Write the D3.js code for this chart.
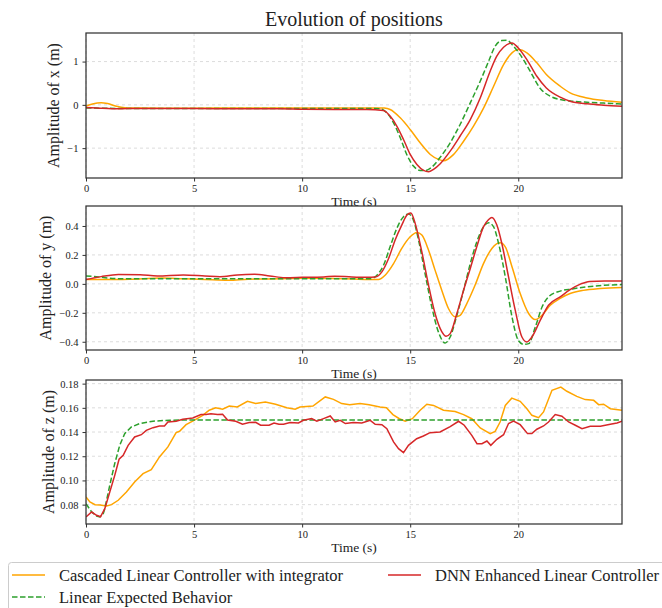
<!DOCTYPE html>
<html>
<head>
<meta charset="utf-8">
<script src="https://cdn.jsdelivr.net/npm/d3@7"></script>
<style>
	body { margin: 0; background: #fff; }
	svg text { font-family: 'Liberation Serif', 'Times New Roman', serif; fill: #222; }
	.grid line { stroke: #d3d3d3; stroke-dasharray: 3,3; stroke-width: 0.8; }
	.axis .domain { display: none; }
	.axis .tick line { stroke: #333; }
	.axis .tick text { font-size: 10.5px; }
</style>
</head>
<body>
<div id="chart"></div>
<script>
// time axis ticks
var timeTicks = [0, 5, 10, 15, 20];
var timeMax = 24.8;

// x position [t, value]
var xCascaded = [[0,-0.03],[0.3,0.02],[0.7,0.05],[1.0,0.03],[1.4,-0.03],[1.8,-0.065],[2.5,-0.075],[4,-0.08],[6,-0.075],[8,-0.075],[10,-0.075],[12,-0.075],[13.5,-0.07],[13.8,-0.075],[14.07,-0.108],[14.54,-0.3],[15.0,-0.57],[15.46,-0.877],[15.93,-1.146],[16.31,-1.26],[16.55,-1.29],[17.0,-1.15],[17.47,-0.84],[17.93,-0.49],[18.4,-0.07],[18.86,0.43],[19.32,0.93],[19.71,1.2],[20.0,1.277],[20.4,1.2],[20.86,0.97],[21.3,0.7],[21.94,0.43],[22.4,0.277],[23.18,0.16],[23.95,0.1],[24.8,0.06]];
var xDnn = [[0,-0.06],[0.5,-0.07],[1.2,-0.09],[2,-0.085],[3,-0.085],[5,-0.085],[7,-0.09],[9,-0.09],[10,-0.1],[11.5,-0.105],[13,-0.105],[13.76,-0.13],[14.07,-0.26],[14.38,-0.49],[14.69,-0.8],[15.0,-1.146],[15.31,-1.377],[15.62,-1.515],[15.85,-1.546],[16.08,-1.49],[16.39,-1.36],[16.85,-1.07],[17.31,-0.72],[17.78,-0.34],[18.24,0.16],[18.7,0.777],[19.0,1.12],[19.32,1.33],[19.71,1.43],[20.0,1.315],[20.4,1.046],[20.86,0.66],[21.3,0.39],[21.94,0.177],[22.4,0.085],[23.18,0.023],[23.95,-0.008],[24.8,-0.03]];
var xExpected = [[0,-0.07],[1,-0.08],[3,-0.085],[13.3,-0.085],[13.61,-0.09],[13.92,-0.185],[14.23,-0.415],[14.54,-0.76],[14.84,-1.146],[15.15,-1.415],[15.46,-1.515],[15.69,-1.52],[16.0,-1.44],[16.39,-1.21],[16.85,-0.877],[17.31,-0.454],[17.78,0.046],[18.24,0.546],[18.63,1.008],[18.93,1.354],[19.24,1.485],[19.47,1.49],[19.78,1.354],[20.09,1.16],[20.55,0.777],[21.0,0.39],[21.48,0.2],[21.94,0.123],[22.4,0.09],[23.18,0.06],[23.95,0.04],[24.8,0.02]];

// y position
var yCascaded = [[0,0.03],[1,0.03],[2,0.032],[3.5,0.04],[4.5,0.035],[5.5,0.03],[6.6,0.025],[7.5,0.032],[9,0.035],[10,0.038],[12,0.035],[13.53,0.03],[13.84,0.06],[14.23,0.14],[14.61,0.245],[15.0,0.325],[15.31,0.355],[15.54,0.337],[15.85,0.233],[16.15,0.095],[16.46,-0.044],[16.77,-0.17],[17.08,-0.228],[17.31,-0.217],[17.62,-0.136],[18.0,-0.01],[18.39,0.14],[18.78,0.245],[19.16,0.284],[19.4,0.256],[19.71,0.118],[20.09,-0.067],[20.48,-0.205],[20.79,-0.247],[21.1,-0.217],[21.48,-0.148],[21.94,-0.1],[22.4,-0.067],[23.0,-0.045],[23.8,-0.032],[24.8,-0.025]];
var yDnn = [[0,0.03],[0.7,0.05],[1.5,0.065],[2.5,0.063],[3.3,0.055],[4.5,0.062],[5.5,0.055],[6.2,0.05],[7.0,0.062],[7.8,0.066],[8.5,0.055],[9.2,0.043],[10,0.045],[11,0.048],[11.5,0.053],[12.3,0.048],[13.0,0.046],[13.38,0.048],[13.69,0.083],[14.0,0.175],[14.3,0.302],[14.61,0.406],[14.85,0.475],[15.03,0.49],[15.23,0.418],[15.54,0.22],[15.85,-0.01],[16.15,-0.205],[16.46,-0.33],[16.66,-0.362],[16.85,-0.344],[17.16,-0.205],[17.47,-0.044],[17.78,0.106],[18.08,0.256],[18.39,0.394],[18.63,0.445],[18.78,0.459],[19.01,0.406],[19.24,0.279],[19.55,0.048],[19.86,-0.182],[20.17,-0.367],[20.4,-0.401],[20.63,-0.367],[21.02,-0.251],[21.4,-0.148],[21.94,-0.09],[22.4,-0.04],[22.9,0.0],[23.3,0.017],[24,0.02],[24.8,0.02]];
var yExpected = [[0,0.055],[0.5,0.05],[1,0.04],[1.8,0.035],[13.15,0.035],[13.46,0.06],[13.77,0.13],[14.07,0.256],[14.38,0.383],[14.69,0.464],[14.92,0.482],[15.15,0.44],[15.39,0.3],[15.69,0.07],[16.0,-0.16],[16.3,-0.33],[16.62,-0.408],[16.85,-0.367],[17.16,-0.217],[17.47,-0.044],[17.78,0.14],[18.08,0.29],[18.39,0.394],[18.63,0.422],[18.86,0.394],[19.09,0.279],[19.4,0.048],[19.71,-0.228],[20.0,-0.39],[20.25,-0.418],[20.48,-0.413],[20.79,-0.298],[21.1,-0.16],[21.4,-0.09],[21.94,-0.05],[22.5,-0.035],[23.2,-0.02],[24.8,-0.005]];

// z position
var zCascaded = [[0,0.0864],[0.18,0.0822],[0.42,0.080],[0.65,0.0797],[0.95,0.0789],[1.18,0.080],[1.49,0.0836],[1.87,0.0905],[2.25,0.0987],[2.64,0.1056],[3.02,0.109],[3.4,0.1194],[3.79,0.1277],[4.17,0.1395],[4.33,0.1406],[4.63,0.1461],[5.0,0.1497],[5.4,0.1538],[5.7,0.158],[6.0,0.160],[6.32,0.1588],[6.63,0.1615],[7.0,0.1607],[7.47,0.1654],[7.85,0.1635],[8.3,0.1648],[8.77,0.163],[9.29,0.160],[9.68,0.1588],[9.9,0.1607],[10.5,0.1615],[11.07,0.169],[11.45,0.167],[11.83,0.1635],[12.2,0.1626],[12.68,0.1635],[13.1,0.1626],[13.6,0.1607],[13.9,0.160],[14.2,0.1544],[14.5,0.151],[14.77,0.149],[15.1,0.151],[15.46,0.158],[15.77,0.163],[16.08,0.162],[16.54,0.158],[17.08,0.157],[17.47,0.1544],[17.85,0.151],[18.24,0.1434],[18.7,0.1387],[18.93,0.1406],[19.16,0.1483],[19.4,0.162],[19.7,0.168],[20.09,0.1654],[20.4,0.1593],[20.63,0.1538],[20.94,0.1519],[21.17,0.1566],[21.56,0.1745],[21.97,0.1772],[22.25,0.1737],[22.71,0.1695],[23.1,0.1668],[23.49,0.1662],[23.72,0.1626],[23.95,0.163],[24.26,0.1593],[24.8,0.158]];
var zDnn = [[0,0.0698],[0.26,0.0739],[0.49,0.0712],[0.67,0.070],[0.87,0.0767],[1.1,0.0905],[1.33,0.1042],[1.53,0.1175],[1.72,0.1208],[1.95,0.129],[2.25,0.1359],[2.56,0.1378],[2.79,0.1414],[3.1,0.1436],[3.4,0.145],[3.63,0.145],[3.79,0.1483],[4.17,0.1489],[4.48,0.1505],[4.94,0.1516],[5.32,0.1544],[5.55,0.1544],[5.78,0.1552],[6.09,0.1544],[6.32,0.1547],[6.55,0.150],[6.93,0.1489],[7.24,0.1464],[7.55,0.1478],[7.85,0.148],[8.08,0.1456],[8.47,0.1456],[8.7,0.1475],[8.93,0.1464],[9.14,0.1464],[9.44,0.1478],[9.83,0.1475],[10.06,0.1497],[10.44,0.1511],[10.68,0.149],[10.99,0.1511],[11.3,0.1533],[11.53,0.1483],[11.76,0.1497],[12.0,0.147],[12.37,0.1478],[12.76,0.1475],[13.15,0.1497],[13.38,0.1464],[13.69,0.1461],[13.92,0.1428],[14.23,0.1318],[14.46,0.1263],[14.69,0.123],[14.92,0.129],[15.3,0.1345],[15.61,0.1367],[15.92,0.1395],[16.38,0.14],[16.85,0.1445],[17.24,0.1489],[17.5,0.1456],[17.85,0.1373],[18.09,0.1304],[18.32,0.1304],[18.55,0.1326],[18.73,0.129],[19.01,0.134],[19.32,0.1378],[19.55,0.147],[19.78,0.149],[20.09,0.1461],[20.43,0.1387],[20.63,0.1387],[20.86,0.1423],[21.17,0.145],[21.4,0.1483],[21.71,0.1544],[22.02,0.153],[22.33,0.1483],[22.64,0.1456],[22.95,0.1428],[23.33,0.1448],[23.8,0.1448],[24.26,0.1464],[24.57,0.1475],[24.8,0.149]];
var zExpected = [[0,0.0808],[0.26,0.074],[0.49,0.0706],[0.64,0.0698],[0.8,0.0726],[0.87,0.0767],[1.1,0.096],[1.33,0.114],[1.56,0.129],[1.79,0.1387],[2.1,0.1442],[2.48,0.147],[3.1,0.149],[3.87,0.1498],[5,0.15],[24.8,0.15]];

var seriesNames = ['Cascaded Linear Controller with integrator', 'DNN Enhanced Linear Controller', 'Linear Expected Behavior'];
var seriesColors = ['#ffa500', '#d62728', '#2ca02c'];

var panels = [
	{ label: 'Amplitude of x (m)', series: [xCascaded, xDnn, xExpected], domain: [-1.69, 1.66], ticks: [-1, 0, 1], fmt: 'd', top: 33, bottom: 178, labelX: 53, smooth: true },
	{ label: 'Amplitude of y (m)', series: [yCascaded, yDnn, yExpected], domain: [-0.457, 0.538], ticks: [-0.4, -0.2, 0, 0.2, 0.4], fmt: '.1f', top: 206, bottom: 350, labelX: 45, smooth: true },
	{ label: 'Amplitude of z (m)', series: [zCascaded, zDnn, zExpected], domain: [0.064, 0.183], ticks: [0.08, 0.10, 0.12, 0.14, 0.16, 0.18], fmt: '.2f', top: 380, bottom: 524, labelX: 48, smooth: false }
];

var W = 662, H = 608, left = 86, right = 622;

var svg = d3.select('#chart').append('svg')
	.attr('width', W)
	.attr('height', H);

svg.append('text')
	.attr('x', 354)
	.attr('y', 26)
	.attr('text-anchor', 'middle')
	.style('font-size', '20px')
	.text('Evolution of positions');

var x = d3.scaleLinear().domain([0, timeMax]).range([left, right]);

panels.forEach(function(p) {
	var y = d3.scaleLinear().domain(p.domain).range([p.bottom, p.top]);
	var g = svg.append('g');

	// white background (covers the label of the panel above)
	g.append('rect')
		.attr('x', left).attr('y', p.top)
		.attr('width', right - left).attr('height', p.bottom - p.top)
		.attr('fill', '#fff');

	// grid
	var grid = g.append('g').classed('grid', true);
	grid.selectAll('.vg').data(timeTicks).enter().append('line')
		.attr('x1', function(d) { return x(d); }).attr('x2', function(d) { return x(d); })
		.attr('y1', p.top).attr('y2', p.bottom);
	grid.selectAll('.hg').data(p.ticks).enter().append('line')
		.attr('x1', left).attr('x2', right)
		.attr('y1', function(d) { return y(d); }).attr('y2', function(d) { return y(d); });

	// lines
	var line = d3.line()
		.x(function(d) { return x(d[0]); })
		.y(function(d) { return y(d[1]); })
		.curve(p.smooth ? d3.curveMonotoneX : d3.curveLinear);

	var clipId = 'clip' + p.top;
	g.append('clipPath').attr('id', clipId).append('rect')
		.attr('x', left).attr('y', p.top)
		.attr('width', right - left).attr('height', p.bottom - p.top);

	var order = [0, 2, 1];
	order.forEach(function(i) {
		g.append('path')
			.datum(p.series[i])
			.attr('clip-path', 'url(#' + clipId + ')')
			.attr('fill', 'none')
			.attr('stroke', seriesColors[i])
			.attr('stroke-width', 1.5)
			.attr('stroke-dasharray', i === 2 ? '5.5,2.5' : null)
			.attr('d', line);
	});

	// axes
	g.append('g')
		.classed('axis', true)
		.attr('transform', 'translate(0,' + p.bottom + ')')
		.call(d3.axisBottom(x).tickValues(timeTicks).tickFormat(d3.format('d')).tickSize(3.5).tickPadding(3));
	g.append('g')
		.classed('axis', true)
		.attr('transform', 'translate(' + left + ',0)')
		.call(d3.axisLeft(y).tickValues(p.ticks).tickFormat(d3.format(p.fmt)).tickSize(3.5).tickPadding(4));

	// frame
	g.append('rect')
		.attr('x', left).attr('y', p.top)
		.attr('width', right - left).attr('height', p.bottom - p.top)
		.attr('fill', 'none')
		.attr('stroke', '#333')
		.attr('stroke-width', 1.25);

	g.append('text')
		.attr('x', (left + right) / 2)
		.attr('y', p.bottom + 28)
		.attr('text-anchor', 'middle')
		.style('font-size', '13.5px')
		.text('Time (s)');

	g.append('text')
		.attr('transform', 'translate(' + p.labelX + ',' + (p.top + p.bottom) / 2 + ') rotate(-90)')
		.attr('text-anchor', 'middle')
		.attr('dy', '0.35em')
		.style('font-size', '16px')
		.text(p.label);
});

// legend
var legend = svg.append('g');
legend.append('rect')
	.attr('x', 8.5).attr('y', 562.5)
	.attr('width', 700).attr('height', 60)
	.attr('rx', 3)
	.attr('fill', '#fff')
	.attr('fill-opacity', 0.8)
	.attr('stroke', '#cccccc');

var legendPos = [[12, 575], [388, 575], [12, 597]];
legendPos.forEach(function(pos, i) {
	legend.append('line')
		.attr('x1', pos[0]).attr('x2', pos[0] + 33)
		.attr('y1', pos[1]).attr('y2', pos[1])
		.attr('stroke', seriesColors[i])
		.attr('stroke-width', 1.5)
		.attr('stroke-dasharray', i === 2 ? '5.5,2.5' : null);
	legend.append('text')
		.attr('x', pos[0] + 47)
		.attr('y', pos[1])
		.attr('dy', '0.35em')
		.style('font-size', '16.5px')
		.text(seriesNames[i]);
});
</script>
</body>
</html>
